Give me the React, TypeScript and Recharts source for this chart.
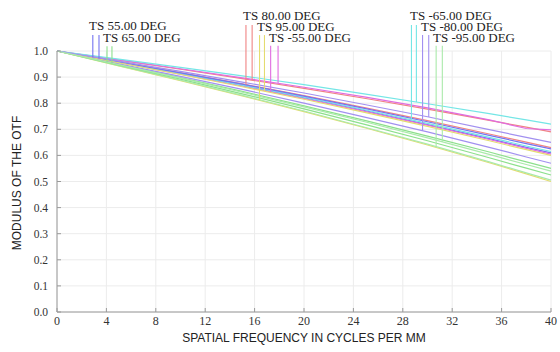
import React from 'react';
import { LineChart, Line, XAxis, YAxis, CartesianGrid, ReferenceLine } from 'recharts';

// ---- data ----
const freqs = [0, 5, 10, 15, 20, 25, 30, 35, 38, 40];

const t55 = [1, 0.957, 0.913, 0.868, 0.821, 0.771, 0.718, 0.664, 0.631, 0.61];
const s55 = [1, 0.958, 0.916, 0.873, 0.827, 0.779, 0.729, 0.677, 0.645, 0.625];
const t65 = [1, 0.949, 0.898, 0.845, 0.79, 0.733, 0.674, 0.613, 0.575, 0.55];
const s65 = [1, 0.946, 0.892, 0.836, 0.778, 0.718, 0.656, 0.591, 0.551, 0.525];
const t80 = [1, 0.959, 0.917, 0.874, 0.829, 0.782, 0.733, 0.682, 0.651, 0.63];
const s80 = [1, 0.965, 0.93, 0.894, 0.857, 0.818, 0.777, 0.734, 0.708, 0.69];
const t95 = [1, 0.943, 0.886, 0.828, 0.768, 0.705, 0.64, 0.572, 0.529, 0.5];
const s95 = [1, 0.955, 0.91, 0.863, 0.815, 0.764, 0.711, 0.656, 0.622, 0.6];
const tm55 = [1, 0.956, 0.911, 0.866, 0.818, 0.768, 0.716, 0.661, 0.627, 0.605];
const sm55 = [1, 0.966, 0.932, 0.897, 0.861, 0.823, 0.782, 0.736, 0.703, 0.698];
const tm65 = [1, 0.957, 0.914, 0.869, 0.823, 0.774, 0.723, 0.669, 0.636, 0.615];
const sm65 = [1, 0.969, 0.937, 0.905, 0.871, 0.835, 0.798, 0.76, 0.736, 0.72];
const tm80 = [1, 0.951, 0.903, 0.853, 0.8, 0.746, 0.69, 0.631, 0.594, 0.57];
const sm80 = [1, 0.961, 0.922, 0.881, 0.839, 0.794, 0.748, 0.699, 0.669, 0.65];
const tm95 = [1, 0.944, 0.888, 0.83, 0.77, 0.707, 0.643, 0.575, 0.533, 0.505];
const sm95 = [1, 0.948, 0.896, 0.842, 0.786, 0.728, 0.667, 0.604, 0.565, 0.54];

const xTicks = [0, 4, 8, 12, 16, 20, 24, 28, 32, 36, 40];
const yTicks = [0, 0.1, 0.2, 0.3, 0.4, 0.5, 0.6, 0.7, 0.8, 0.9, 1.0];

const fieldLabels = [
  'TS 55.00 DEG', 'TS 65.00 DEG', 'TS 80.00 DEG', 'TS 95.00 DEG',
  'TS -55.00 DEG', 'TS -65.00 DEG', 'TS -80.00 DEG', 'TS -95.00 DEG',
];
// frequencies where the legend markers meet the T and S curves
const markerFreqT = [2.9, 4.05, 15.3, 16.4, 17.3, 28.7, 29.6, 30.7];
const markerFreqS = [3.4, 4.45, 15.8, 16.8, 17.9, 29.1, 30.1, 31.2];
const markerTop = [1.061, 1.018, 1.1, 1.061, 1.02, 1.1, 1.061, 1.02];

const seriesT = [t55, t65, t80, t95, tm55, tm65, tm80, tm95];
const seriesS = [s55, s65, s80, s95, sm55, sm65, sm80, sm95];

// ---- styles ----
const colors = ['#7474f0', '#8ce08c', '#f08484', '#e4dc70', '#e06ce0', '#74e6e6', '#a290f0', '#aaeaaa'];
const labelPos = [
  { left: 89, cy: 26 }, { left: 103, cy: 38 }, { left: 243, cy: 16 }, { left: 257, cy: 27 },
  { left: 269, cy: 38 }, { left: 410, cy: 16 }, { left: 421, cy: 27 }, { left: 433, cy: 38 },
];

const data = freqs.map((f, i) => {
  const row: Record<string, number> = { f };
  seriesT.forEach((s, k) => { row['t' + k] = s[i]; });
  seriesS.forEach((s, k) => { row['s' + k] = s[i]; });
  return row;
});

function valueAt(vals: number[], f: number): number {
  for (let i = 0; i < freqs.length - 1; i++) {
    if (f >= freqs[i] && f <= freqs[i + 1]) {
      const r = (f - freqs[i]) / (freqs[i + 1] - freqs[i]);
      return vals[i] + r * (vals[i + 1] - vals[i]);
    }
  }
  return vals[vals.length - 1];
}

const FRAME = '#9a9a9a';
const serif = '"Liberation Serif", "Times New Roman", serif';
const sans = '"Liberation Sans", Arial, sans-serif';

export default function App() {
  return (
    <div style={{ position: 'absolute', left: 0, top: 0, width: 560, height: 352, background: '#fff' }}>
      <LineChart width={560} height={352} data={data} margin={{ top: 51, right: 9, bottom: 10, left: 20 }}>
        <CartesianGrid stroke="#ececec" strokeWidth={1} />
        <XAxis
          dataKey="f"
          type="number"
          domain={[0, 40]}
          ticks={xTicks}
          height={30}
          stroke={FRAME}
          tickSize={-4}
          tickMargin={8}
          tick={{ fontFamily: serif, fontSize: 12, fill: '#333' }}
          interval={0}
        />
        <XAxis
          xAxisId="top"
          orientation="top"
          dataKey="f"
          type="number"
          domain={[0, 40]}
          ticks={xTicks}
          height={0}
          stroke={FRAME}
          tickSize={-4}
          tick={() => <g />}
        />
        <YAxis
          type="number"
          domain={[0, 1]}
          ticks={yTicks}
          width={37}
          stroke={FRAME}
          tickSize={-4}
          tickMargin={13}
          tick={{ fontFamily: serif, fontSize: 11.5, fill: '#333' }}
          tickFormatter={(v: number) => v.toFixed(1)}
          interval={0}
        />
        <YAxis
          yAxisId="right"
          orientation="right"
          type="number"
          domain={[0, 1]}
          ticks={yTicks}
          width={0}
          stroke={FRAME}
          tickSize={-4}
          tick={() => <g />}
        />
        {seriesT.map((_, k) => (
          <Line key={'t' + k} dataKey={'t' + k} type="linear" dot={false} stroke={colors[k]}
            strokeWidth={1.2} isAnimationActive={false} />
        ))}
        {seriesS.map((_, k) => (
          <Line key={'s' + k} dataKey={'s' + k} type="linear" dot={false} stroke={colors[k]}
            strokeWidth={1.2} isAnimationActive={false} />
        ))}
        {fieldLabels.map((_, k) => (
          <ReferenceLine key={'mt' + k} ifOverflow="visible" stroke={colors[k]} strokeWidth={1.1}
            segment={[{ x: markerFreqT[k], y: valueAt(seriesT[k], markerFreqT[k]) }, { x: markerFreqT[k], y: markerTop[k] }]} />
        ))}
        {fieldLabels.map((_, k) => (
          <ReferenceLine key={'ms' + k} ifOverflow="visible" stroke={colors[k]} strokeWidth={1.1}
            segment={[{ x: markerFreqS[k], y: valueAt(seriesS[k], markerFreqS[k]) }, { x: markerFreqS[k], y: markerTop[k] }]} />
        ))}
      </LineChart>
      {fieldLabels.map((lab, k) => (
        <span key={lab} style={{
          position: 'absolute', left: labelPos[k].left, top: labelPos[k].cy - 5, fontFamily: serif,
          fontSize: 13, lineHeight: '10px', height: 10, color: '#222', whiteSpace: 'nowrap',
        }}>{lab}</span>
      ))}
      <span style={{
        position: 'absolute', left: 304, top: 332, transform: 'translateX(-50%)', fontFamily: sans,
        fontSize: 12, lineHeight: '12px', color: '#222', whiteSpace: 'nowrap',
      }}>SPATIAL FREQUENCY IN CYCLES PER MM</span>
      <span style={{
        position: 'absolute', left: 17, top: 183, transform: 'translate(-50%, -50%) rotate(-90deg)',
        fontFamily: sans, fontSize: 12, lineHeight: '12px', color: '#222', whiteSpace: 'nowrap',
      }}>MODULUS OF THE OTF</span>
    </div>
  );
}
